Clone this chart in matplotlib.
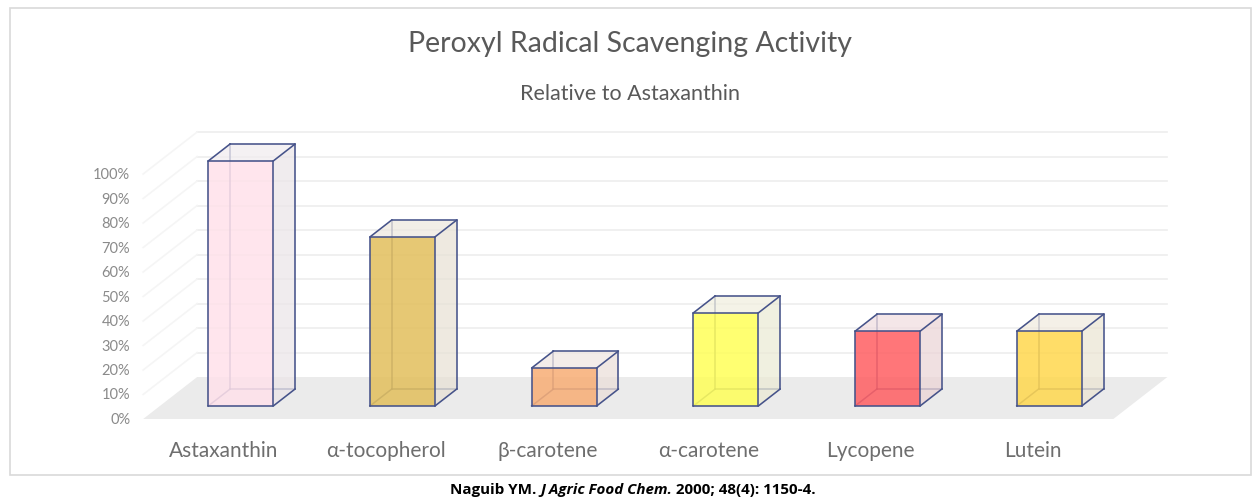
import matplotlib.pyplot as plt
from matplotlib.patches import Polygon, Rectangle
from matplotlib.colors import to_rgb

# data
categories = ["Astaxanthin", "α-tocopherol", "β-carotene", "α-carotene", "Lycopene", "Lutein"]
values = [1.00, 0.69, 0.155, 0.38, 0.305, 0.305]
bar_colors = ["#FFE1EA", "#E2BF5C", "#F7AD75", "#FFFF58", "#FF5E62", "#FFD74E"]
tick_values = [0.0, 0.1, 0.2, 0.3, 0.4, 0.5, 0.6, 0.7, 0.8, 0.9, 1.0]
tick_labels = ["0%", "10%", "20%", "30%", "40%", "50%", "60%", "70%", "80%", "90%", "100%"]

# oblique "3d" settings (in data units)
DX, DY = 0.334, 0.1714      # shift for full floor depth
Z0, Z1 = 0.31, 0.714        # bar front / back depth
BW = 0.402                  # bar width
EDGE = "#46538A"
TXT = "#6E6E6E"


def P(x, y, z):
    return (x + z * DX, y + z * DY)


def mix(c, grey, t):
    a = to_rgb(c)
    b = to_rgb(grey)
    return tuple(t * a[i] + (1 - t) * b[i] for i in range(3))


fig = plt.figure(figsize=(12.52, 5.02), dpi=100)
ax = fig.add_axes([0, 0, 1, 1])
ax.set_xlim(-1.3853, 6.3574)
ax.set_ylim(-0.3347, 1.7143)
ax.axis("off")

n = len(categories)
xl, xr = -0.5, n - 0.5

# floor
ax.add_patch(Polygon([P(xl, 0, 0), P(xr, 0, 0), P(xr, 0, 1), P(xl, 0, 1)],
                     closed=True, facecolor="#EBEBEB", edgecolor="none", zorder=1))

# gridlines on back wall + left wall
for v in tick_values[1:]:
    a, b = P(xl, v, 1), P(xr, v, 1)
    ax.plot([a[0], b[0]], [a[1], b[1]], color="#EDEDED", lw=1.2, zorder=0)
    a, b = P(xl, v, 0), P(xl, v, 1)
    ax.plot([a[0], b[0]], [a[1], b[1]], color="#F5F5F5", lw=1.2, zorder=0)

# tick labels
for v, lab in zip(tick_values, tick_labels):
    ax.text(xl - 0.08, v, lab, ha="right", va="center", fontsize=10.5,
            color="#8A8A8A", family="Lato")

# bars
for i, (v, c) in enumerate(zip(values, bar_colors)):
    x0, x1 = i - BW / 2, i + BW / 2
    # corners
    fbl, fbr, ftl, ftr = P(x0, 0, Z0), P(x1, 0, Z0), P(x0, v, Z0), P(x1, v, Z0)
    bbl, bbr, btl, btr = P(x0, 0, Z1), P(x1, 0, Z1), P(x0, v, Z1), P(x1, v, Z1)
    zb = 3 + i * 0.01
    # hidden edges
    for p, q in [(bbl, btl), (bbl, bbr), (bbl, fbl)]:
        ax.plot([p[0], q[0]], [p[1], q[1]], color=EDGE, lw=1.1, alpha=0.85, zorder=zb)
    side = mix(c, "#E8E6E8", 0.14)
    top = mix(c, "#EEEDF0", 0.12)
    ax.add_patch(Polygon([fbr, bbr, btr, ftr], closed=True, facecolor=side,
                         alpha=0.7, edgecolor="none", zorder=zb + 0.001))
    ax.add_patch(Polygon([ftl, ftr, btr, btl], closed=True, facecolor=top,
                         alpha=0.7, edgecolor="none", zorder=zb + 0.001))
    ax.add_patch(Polygon([fbl, fbr, ftr, ftl], closed=True, facecolor=c,
                         alpha=0.85, edgecolor="none", zorder=zb + 0.002))
    for p, q in [(fbl, fbr), (fbr, ftr), (ftr, ftl), (ftl, fbl),
                 (fbr, bbr), (bbr, btr), (btr, btl), (ftr, btr), (ftl, btl)]:
        ax.plot([p[0], q[0]], [p[1], q[1]], color=EDGE, lw=1.15, zorder=zb + 0.003,
                solid_capstyle="round")

# category labels
for i, lab in enumerate(categories):
    ax.text(i, -0.125, lab, ha="center", va="center", fontsize=15,
            color=TXT, family="Lato")

# titles
fig.text(0.503, 1 - 44 / 502, "Peroxyl Radical Scavenging Activity", ha="center",
         va="center", fontsize=20.5, color="#595959", family="Lato")
fig.text(0.503, 1 - 94 / 502, "Relative to Astaxanthin", ha="center", va="center",
         fontsize=15.5, color="#595959", family="Lato")

# chart border
fig.patches.append(Rectangle((10 / 1252, 1 - 476 / 502), 1241 / 1252, 467 / 502,
                             transform=fig.transFigure, fill=False,
                             edgecolor="#D9D9D9", lw=1.2))

# caption
t1 = fig.text(450 / 1252, 1 - 490 / 502, "Naguib YM. ", ha="left", va="center",
              fontsize=10.9, fontweight="bold", color="black", family="Open Sans")
t2 = ax.annotate("J Agric Food Chem.", xy=(1, 0), xycoords=t1, ha="left", va="bottom",
                 fontsize=10.9, fontweight="bold", style="italic", color="black",
                 family="Open Sans")
ax.annotate(" 2000; 48(4): 1150-4.", xy=(1, 0), xycoords=t2, ha="left", va="bottom",
            fontsize=10.9, fontweight="bold", color="black", family="Open Sans")

fig.savefig("out.png", dpi=100)
